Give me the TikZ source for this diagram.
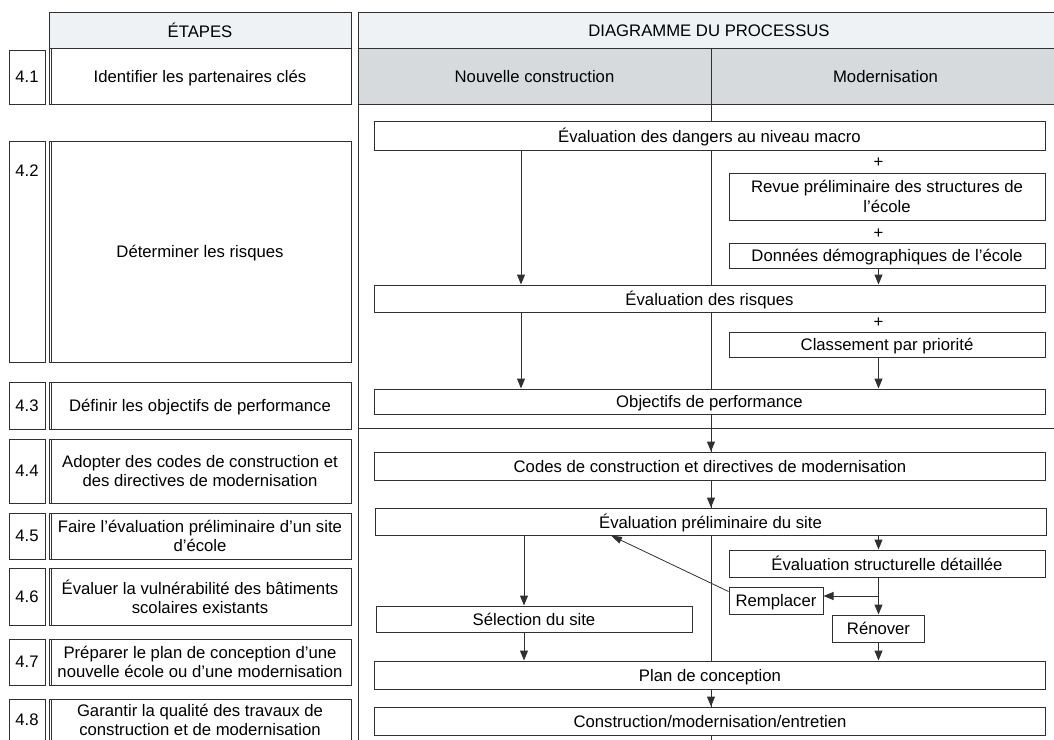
\documentclass[tikz,border=0pt]{standalone}
\usepackage{fontspec}
\setmainfont{Liberation Sans}
\usetikzlibrary{arrows.meta}
\definecolor{hdrfill}{HTML}{EEF2F4}
\definecolor{subfill}{HTML}{D7DADD}
\definecolor{ln}{HTML}{303030}
\begin{document}
\begin{tikzpicture}[x=1pt,y=-1pt,
  every node/.style={font=\fontsize{16.7}{19.5}\selectfont, text=black},
  pbox/.style={draw=ln, line width=1pt, fill=white, inner sep=2pt, align=center, text depth=-2pt},
  numbox/.style={pbox, minimum width=36pt},
  stepbox/.style={pbox, minimum width=302pt,
    path picture={\draw[ln, line width=0.8pt]
      ([xshift=2.5pt]path picture bounding box.north west) --
      ([xshift=2.5pt]path picture bounding box.south west);}},
  hdr/.style={pbox, fill=hdrfill},
  subhdr/.style={pbox, fill=subfill},
  wide/.style={pbox, minimum width=671pt},
  half/.style={pbox, minimum width=316pt},
  plus/.style={inner sep=0pt},
  arr/.style={draw=ln, line width=1pt, -{Triangle[length=10pt,width=8pt]}},
  frame/.style={draw=ln, line width=1pt}
]
\useasboundingbox (0,0) rectangle (1054,739);

% ---------- left column : steps ----------
\node[hdr, minimum width=302pt, minimum height=36.5pt] (hE) at (200,30.25) {ÉTAPES};
\node[stepbox, minimum height=55.5pt] (s1) at (200,76.25) {Identifier les partenaires clés};
\node[numbox, minimum height=54pt] (n1) at (27,77) {4.1};
\node[stepbox, minimum height=221pt] (s2) at (200,251.5) {Déterminer les risques};
\node[numbox, minimum height=221pt] (n2) at (27,251.5) {};
\node (n2t) at (27,171) {4.2};
\node[stepbox, minimum height=47pt] (s3) at (200,405.5) {Définir les objectifs de performance};
\node[numbox, minimum height=47pt] (n3) at (27,405.5) {4.3};
\node[stepbox, minimum height=64pt] (s4) at (200,471) {Adopter des codes de construction et\\des directives de modernisation};
\node[numbox, minimum height=64pt] (n4) at (27,471) {4.4};
\node[stepbox, minimum height=46pt] (s5) at (200,536) {Faire l’évaluation préliminaire d’un site\\d’école};
\node[numbox, minimum height=46pt] (n5) at (27,536) {4.5};
\node[stepbox, minimum height=57pt] (s6) at (200,596.5) {Évaluer la vulnérabilité des bâtiments\\scolaires existants};
\node[numbox, minimum height=57pt] (n6) at (27,596.5) {4.6};
\node[stepbox, minimum height=46pt] (s7) at (200,662) {Préparer le plan de conception d’une\\nouvelle école ou d’une modernisation};
\node[numbox, minimum height=46pt] (n7) at (27,662) {4.7};
\node[stepbox, minimum height=42pt] (s8) at (200,720) {Garantir la qualité des travaux de\\construction et de modernisation};
\node[numbox, minimum height=42pt] (n8) at (27,720) {4.8};

% ---------- right column frame ----------
\draw[frame] (358,48) -- (358,745);
\draw[frame] (711,104) -- (711,745);
\draw[frame] (358,428.5) -- (1060,428.5);
\node[hdr, minimum width=702pt, minimum height=36.5pt] (hD) at (709,30.25) {DIAGRAMME DU PROCESSUS};
\node[subhdr, minimum width=353pt, minimum height=55.5pt] (hN) at (534.5,76.25) {Nouvelle construction};
\node[subhdr, minimum width=349pt, minimum height=55.5pt] (hM) at (885.5,76.25) {Modernisation};

% ---------- process boxes ----------
\coordinate (xa) at (521,0);
\coordinate (xb) at (524,0);
\coordinate (xm) at (711,0);
\coordinate (xr) at (878.5,0);
\coordinate (xq) at (611,0);

\node[wide, minimum height=29.5pt] (macro) at (709.5,135.75) {Évaluation des dangers au niveau macro};
\node[plus] (p1) at (878.5,163) {+};
\node[half, minimum height=47pt] (revue) at (887,196.5) {Revue préliminaire des structures de\\l’école};
\node[plus] (p2) at (878.5,234) {+};
\node[half, minimum height=25pt] (donnees) at (887,255.5) {Données démographiques de l’école};
\node[wide, minimum height=27pt] (risques) at (709.5,298.5) {Évaluation des risques};
\node[plus] (p3) at (878.5,323) {+};
\node[half, minimum height=25pt] (classement) at (887,344.5) {Classement par priorité};
\node[wide, minimum height=25pt] (objectifs) at (709.5,401.5) {Objectifs de performance};

\node[wide, minimum height=28pt] (codes) at (710,466) {Codes de construction et directives de modernisation};
\node[wide, minimum height=27pt] (prelim) at (710.5,521.5) {Évaluation préliminaire du site};
\node[half, minimum height=27pt] (struct) at (887,563.5) {Évaluation structurelle détaillée};
\node[pbox, minimum width=94pt, minimum height=27pt] (rempl) at (776,600.5) {Remplacer};
\node[pbox, minimum width=92pt, minimum height=27pt] (renov) at (878.5,628.5) {Rénover};
\node[half, minimum height=26pt] (select) at (534,619) {Sélection du site};
\node[wide, minimum height=28pt] (plan) at (710,675) {Plan de conception};
\node[wide, minimum height=28pt] (constr) at (710,721) {Construction/modernisation/entretien};

% ---------- connectors ----------
\draw[arr] (macro.south -| xa) -- (risques.north -| xa);
\draw[arr] (donnees.south -| xr) -- (risques.north -| xr);
\draw[arr] (risques.south -| xa) -- (objectifs.north -| xa);
\draw[arr] (classement.south -| xr) -- (objectifs.north -| xr);
\draw[arr] (objectifs.south -| xm) -- (codes.north -| xm);
\draw[arr] (codes.south -| xm) -- (prelim.north -| xm);
\draw[arr] (prelim.south -| xb) -- (select.north -| xb);
\draw[arr] (prelim.south -| xr) -- (struct.north -| xr);
\draw[arr] (struct.south -| xr) -- (renov.north -| xr);
\coordinate (br) at (878.5,596);
\draw[arr] (br) -- (br -| rempl.east);
\draw[draw=ln, line width=0.8pt, -{Triangle[length=11pt,width=7pt]}] ([yshift=-5pt]rempl.north west) -- (prelim.south -| xq);
\draw[arr] (select.south -| xb) -- (plan.north -| xb);
\draw[arr] (renov.south -| xr) -- (plan.north -| xr);
\draw[arr] (plan.south -| xm) -- (constr.north -| xm);
\end{tikzpicture}
\end{document}
